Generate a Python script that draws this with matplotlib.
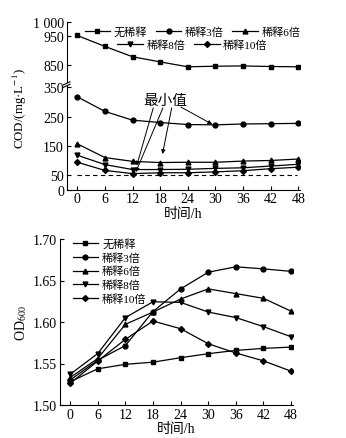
import matplotlib
matplotlib.use('Agg')
import matplotlib.pyplot as plt

plt.rcParams['font.family'] = ['Liberation Serif', 'Noto Sans CJK SC']
plt.rcParams['mathtext.fontset'] = 'stix'
plt.rcParams['axes.unicode_minus'] = False

hours = [0, 6, 12, 18, 24, 30, 36, 42, 48]
labels = ['无稀释', '稀释3倍', '稀释6倍', '稀释8倍', '稀释10倍']
markers = ['s', 'o', '^', 'v', 'D']

cod_none = [953, 915, 879, 861, 844, 846, 847, 845, 844]
cod_x3 = [318, 268, 238, 230, 223, 222, 225, 226, 227]
cod_x6 = [157, 110, 97, 93, 94, 94, 98, 100, 105]
cod_x8 = [118, 86, 69, 69, 70, 73, 75, 81, 87]
cod_x10 = [94, 66, 55, 58, 58, 61, 65, 72, 77]
cod_series = [cod_none, cod_x3, cod_x6, cod_x8, cod_x10]

od_none = [1.528, 1.5436, 1.549, 1.5516, 1.557, 1.5618, 1.5658, 1.5682, 1.5698]
od_x3 = [1.530, 1.554, 1.5716, 1.6126, 1.6399, 1.660, 1.6665, 1.664, 1.661]
od_x6 = [1.533, 1.556, 1.5972, 1.612, 1.6277, 1.6399, 1.6342, 1.6285, 1.613]
od_x8 = [1.537, 1.562, 1.6053, 1.6244, 1.6236, 1.612, 1.6053, 1.5944, 1.5822]
od_x10 = [1.526, 1.553, 1.5791, 1.6012, 1.5919, 1.5738, 1.5626, 1.5532, 1.5407]
od_series = [od_none, od_x3, od_x6, od_x8, od_x10]

W, H = 346, 439
fig = plt.figure(figsize=(W / 100, H / 100), dpi=100)


def frac(x0, y0, x1, y1):
    # pixel box -> figure fraction
    return [x0 / W, 1 - y1 / H, (x1 - x0) / W, (y1 - y0) / H]


def style(ax):
    for s in ['top', 'right']:
        ax.spines[s].set_visible(False)
    for s in ['left', 'bottom']:
        ax.spines[s].set_linewidth(0.8)
    ax.tick_params(direction='in', length=3, width=0.8, labelsize=10, pad=2)


# ---- COD (broken axis) ----
ax_hi = fig.add_axes(frac(66.7, 23, 299.7, 83.3))
ax_lo = fig.add_axes(frac(66.7, 87, 299.7, 190.7))
lines = []
for vals, m, lab in zip(cod_series, markers, labels):
    ms = 3.0 if m == 'D' else 3.5
    l, = ax_hi.plot(hours, vals, marker=m, label=lab, color='black', lw=0.9, ms=ms)
    ax_lo.plot(hours, vals, marker=m, color='black', lw=0.9, ms=ms)
    lines.append(l)
ax_lo.axhline(50, color='black', lw=0.8, ls=(0, (4, 3)), xmin=0.045, xmax=0.99)

for ax in (ax_hi, ax_lo):
    style(ax)
    ax.set_xlim(-2.3, 48.3)
ax_hi.set_ylim(790, 1000)
ax_hi.set_yticks([850, 950, 1000])
ax_hi.set_yticklabels(['850', '950', '1 000'])
ax_hi.spines['bottom'].set_visible(False)
ax_hi.tick_params(axis='x', bottom=False, labelbottom=False)
ax_lo.set_ylim(0, 355)
ax_lo.set_yticks([0, 50, 150, 250, 350])
ax_lo.set_xticks(hours)
ax_lo.set_xlabel('时间/h', fontsize=10, labelpad=1)

# break marks on the y spine
for yb in (84.3, 86.8):
    fig.add_artist(plt.Line2D([63.5 / W, 70 / W], [1 - (yb + 1.5) / H, 1 - (yb - 1.5) / H],
                              color='black', lw=0.8))

fig.text(19.5 / W, 1 - 109 / H, 'COD/(mg·L$^{-1}$)', rotation=90, ha='center', va='center',
         fontsize=9.3)

leg_kw = dict(loc='center', frameon=False, fontsize=8, handlelength=2.3,
              columnspacing=0.8, handletextpad=0.3, borderaxespad=0)
leg1 = ax_hi.legend(lines[:3], labels[:3], ncol=3, bbox_to_anchor=(0.54, 0.84), **leg_kw)
ax_hi.add_artist(leg1)
ax_hi.legend(lines[3:], labels[3:], ncol=2, bbox_to_anchor=(0.54, 0.63), **leg_kw)

ax_lo.text(19.2, 305, '最小值', ha='center', va='center', fontsize=10.5)
arrows = [((16.5, 280), (12.9, 82)), ((18.6, 280), (12.7, 60)),
          ((20.5, 280), (18.5, 122)), ((22.5, 283), (29.3, 224))]
for start, tip in arrows:
    ax_lo.annotate('', xy=tip, xytext=start,
                   arrowprops=dict(arrowstyle='-|>', lw=0.7, color='black',
                                   mutation_scale=6, shrinkA=0, shrinkB=0))

# ---- OD600 ----
ax2 = fig.add_axes(frac(60, 240, 292.5, 406))
lines2 = []
for vals, m, lab in zip(od_series, markers, labels):
    ms = 3.0 if m == 'D' else 3.5
    l, = ax2.plot(hours, vals, marker=m, label=lab, color='black', lw=0.9, ms=ms)
    lines2.append(l)
style(ax2)
ax2.set_xlim(-2.2, 48.3)
ax2.set_ylim(1.50, 1.70)
ax2.set_yticks([1.50, 1.55, 1.60, 1.65, 1.70])
ax2.set_yticklabels(['1.50', '1.55', '1.60', '1.65', '1.70'])
ax2.set_xticks(hours)
ax2.set_xlabel('时间/h', fontsize=10, labelpad=1)
ax2.set_ylabel('OD$_{600}$', fontsize=10, labelpad=3)
ax2.legend(lines2, labels, loc='upper left', frameon=False, bbox_to_anchor=(0.035, 1.03),
           fontsize=8, handlelength=2.3, handletextpad=0.35, labelspacing=0.28,
           borderaxespad=0)

fig.savefig('out.png', dpi=100)
